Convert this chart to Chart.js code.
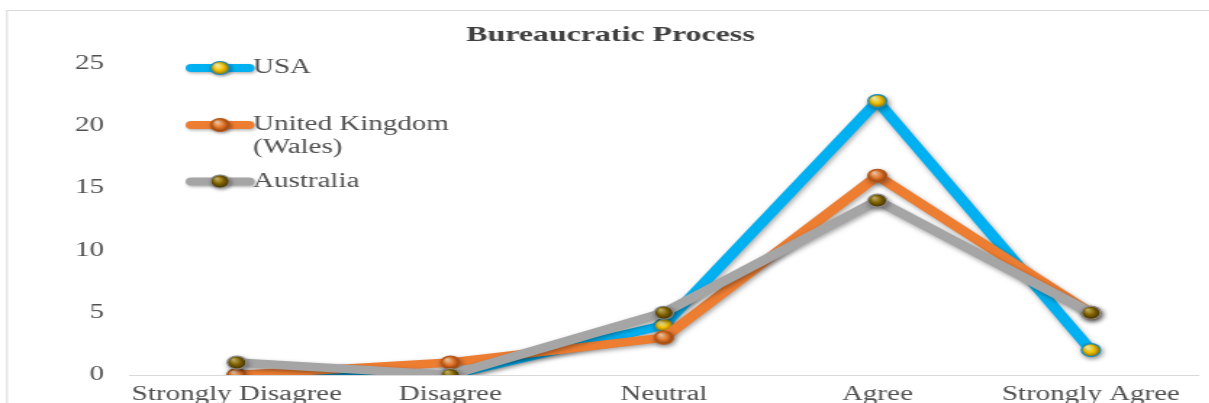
<!DOCTYPE html>
<html>
<head>
<meta charset="utf-8">
<script src="https://cdn.jsdelivr.net/npm/chart.js@4/dist/chart.umd.min.js"></script>
<style>
  html, body { margin: 0; padding: 0; background: #fff; overflow: hidden; width: 1209px; height: 403px; }
  #c { display: block; transform: scaleX(1.45); transform-origin: 0 0; }
</style>
</head>
<body>
<canvas id="c" width="834" height="420"></canvas>
<script>
// ---- data ----
const categories = ['Strongly Disagree', 'Disagree', 'Neutral', 'Agree', 'Strongly Agree'];
const seriesLabels = [['USA'], ['United Kingdom', '(Wales)'], ['Australia']];
const usa = [0, 0, 4, 22, 2];
const unitedKingdom = [0, 1, 3, 16, 5];
const australia = [1, 0, 5, 14, 5];
const yMin = 0, yMax = 25, yStep = 5;
const chartTitle = 'Bureaucratic Process';

// ---- styles ----
const FONT = "'Liberation Serif', 'Times New Roman', serif";
const TEXT = '#505050';
const lineColors = ['#00B0F0', '#ED7D31', '#A5A5A5'];
const markerColors = [
  ['#FFF7B0', '#F2C200', '#8A6A00'],
  ['#FBCBA5', '#E3762A', '#8A3A08'],
  ['#C9B45A', '#7F6000', '#3A2C00']
];
const markerBorders = ['#1B8FBF', '#B85A1C', '#8C8C8C'];
const R = 6.5;

function sphereGradient(ctx, x, y, r, c) {
  const g = ctx.createRadialGradient(x - r * 0.35, y - r * 0.45, r * 0.1, x, y, r * 1.1);
  g.addColorStop(0, c[0]);
  g.addColorStop(0.5, c[1]);
  g.addColorStop(1, c[2]);
  return g;
}

function pointFill(i) {
  return function (c) {
    if (c.type !== 'data') return markerColors[i][1];
    const xs = c.chart.scales.x, ys = c.chart.scales.y;
    if (!xs || !ys) return markerColors[i][1];
    const x = xs.getPixelForValue(c.dataIndex);
    const y = ys.getPixelForValue(c.parsed.y);
    if (!isFinite(x) || !isFinite(y)) return markerColors[i][1];
    return sphereGradient(c.chart.ctx, x, y, R, markerColors[i]);
  };
}

const values = [usa, unitedKingdom, australia];
const datasets = values.map((v, i) => ({
  label: seriesLabels[i].join(' '),
  data: v,
  borderColor: lineColors[i],
  borderWidth: 8.5,
  borderJoinStyle: 'round',
  borderCapStyle: 'round',
  pointRadius: R,
  pointBorderWidth: 1.2,
  pointBorderColor: markerBorders[i],
  pointBackgroundColor: pointFill(i),
  order: 3 - i,
  tension: 0,
  fill: false
}));

const frame = {
  id: 'frame',
  beforeDraw(chart) {
    const ctx = chart.ctx;
    ctx.save();
    ctx.fillStyle = '#fff';
    ctx.fillRect(0, 0, chart.width, chart.height);
    ctx.strokeStyle = '#D9D9D9';
    ctx.lineWidth = 1;
    ctx.strokeRect(4.8, 10.5, 1000, 1000);
    ctx.restore();
  }
};

const shadow = {
  id: 'shadow',
  beforeDatasetDraw(chart) {
    const ctx = chart.ctx;
    ctx.save();
    ctx.shadowColor = 'rgba(0,0,0,0.35)';
    ctx.shadowBlur = 4;
    ctx.shadowOffsetX = 1;
    ctx.shadowOffsetY = 2;
  },
  afterDatasetDraw(chart) {
    chart.ctx.restore();
  }
};

const customLegend = {
  id: 'customLegend',
  afterDraw(chart, args, opts) {
    const ctx = chart.ctx;
    chart.data.datasets.forEach((ds, i) => {
      const y = opts.itemY[i];
      ctx.save();
      ctx.shadowColor = 'rgba(0,0,0,0.3)';
      ctx.shadowBlur = 3;
      ctx.shadowOffsetX = 1;
      ctx.shadowOffsetY = 1.5;
      ctx.strokeStyle = ds.borderColor;
      ctx.lineWidth = 8;
      ctx.lineCap = 'round';
      ctx.beginPath();
      ctx.moveTo(opts.x1, y);
      ctx.lineTo(opts.x2, y);
      ctx.stroke();
      const mx = (opts.x1 + opts.x2) / 2;
      ctx.beginPath();
      ctx.arc(mx, y, R, 0, Math.PI * 2);
      ctx.fillStyle = sphereGradient(ctx, mx, y, R, markerColors[i]);
      ctx.fill();
      ctx.lineWidth = 1.2;
      ctx.strokeStyle = markerBorders[i];
      ctx.stroke();
      ctx.restore();
      ctx.save();
      ctx.fillStyle = TEXT;
      ctx.font = '20px ' + FONT;
      ctx.textBaseline = 'middle';
      ctx.textAlign = 'left';
      seriesLabels[i].forEach((t, k) => {
        ctx.fillText(t, opts.textX, y + k * opts.lineGap);
      });
      ctx.restore();
    });
  }
};

new Chart(document.getElementById('c'), {
  type: 'line',
  data: { labels: categories, datasets },
  plugins: [frame, shadow, customLegend],
  options: {
    responsive: false,
    devicePixelRatio: 1,
    animation: false,
    layout: { padding: { left: 16, right: 8, top: 12, bottom: 0 } },
    plugins: {
      legend: { display: false },
      tooltip: { enabled: false },
      title: {
        display: true,
        text: chartTitle,
        color: '#404040',
        font: { family: FONT, size: 22, weight: 'bold' },
        padding: { top: 10, bottom: 15.3 }
      },
      customLegend: { x1: 132, x2: 171.5, textX: 174.5, itemY: [68, 125, 181.5], lineGap: 22.5 }
    },
    scales: {
      x: {
        type: 'category',
        offset: true,
        grid: { display: false, drawTicks: false },
        border: { display: true, color: '#D9D9D9', width: 1 },
        ticks: { color: TEXT, font: { family: FONT, size: 20 }, padding: 8, maxRotation: 0, autoSkip: false },
        afterFit(s) { s.height = 45; }
      },
      y: {
        min: yMin, max: yMax,
        grid: { display: false, drawTicks: false },
        border: { display: false },
        ticks: { stepSize: yStep, color: TEXT, font: { family: FONT, size: 20 }, padding: 18 },
        afterFit(s) { s.width = 73.7; }
      }
    }
  }
});
</script>
</body>
</html>
